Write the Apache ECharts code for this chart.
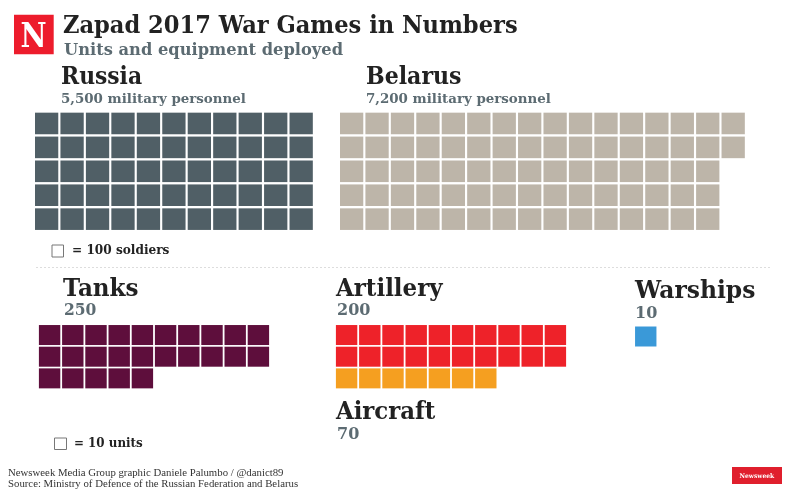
<!DOCTYPE html>
<html>
<head>
<meta charset="utf-8">
<style>
html, body { margin: 0; padding: 0; background: #fff; }
#chart { width: 790px; height: 494px; }
</style>
<script src="https://cdn.jsdelivr.net/npm/echarts@6/dist/echarts.min.js"></script>
</head>
<body>
<div id="chart"></div>
<script>
// squares per row, one square = 100 soldiers or 10 units
var russiaRows = [11, 11, 11, 11, 11];
var belarusRows = [16, 16, 15, 15, 15];
var tanksRows = [10, 10, 5];
var artilleryRows = [10, 10];
var aircraftRows = [0, 0, 7];
var warshipsRows = [1];

var russiaLabel = '5,500 military personnel';
var belarusLabel = '7,200 military personnel';
var tanksLabel = '250';
var artilleryLabel = '200';
var aircraftLabel = '70';
var warshipsLabel = '10';

var myChart = echarts.init(document.getElementById('chart'), null, { renderer: 'canvas' });

var SERIF = '"DejaVu Serif"';
var SOURCE = '"Liberation Serif"';
var DARK = '#222222';
var GREY = '#5c6b72';

// turn row counts into [col, row] points
function cells(rows) {
    var out = [];
    for (var r = 0; r < rows.length; r++) {
        for (var c = 0; c < rows[r]; c++) {
            out.push([c + 0.5, r + 0.5]);
        }
    }
    return out;
}

var blocks = [
    { name: 'Russia', rows: russiaRows, color: '#505f66', left: 33.9, top: 111.5, cols: 11, nrows: 5, width: 280, height: 119.6, size: [23.3, 21.6] },
    { name: 'Belarus', rows: belarusRows, color: '#bdb5a9', left: 338.9, top: 111.5, cols: 16, nrows: 5, width: 407, height: 119.6, size: [23.3, 21.6] },
    { name: 'Tanks', rows: tanksRows, color: '#5e0e3c', left: 38, top: 324.2, cols: 10, nrows: 3, width: 232, height: 65, size: [21.4, 20] },
    { name: 'Artillery', rows: artilleryRows, color: '#ee2229', left: 335, top: 324.2, cols: 10, nrows: 3, width: 232, height: 65, size: [21.4, 20] },
    { name: 'Aircraft', rows: aircraftRows, color: '#f59f20', left: 335, top: 324.2, cols: 10, nrows: 3, width: 232, height: 65, size: [21.4, 20] },
    { name: 'Warships', rows: warshipsRows, color: '#3a99d8', left: 635, top: 326.5, cols: 1, nrows: 1, width: 21.5, height: 20, size: [21.4, 20] }
];

var grids = [], xAxes = [], yAxes = [], series = [];
blocks.forEach(function (b, i) {
    grids.push({ left: b.left, top: b.top, width: b.width, height: b.height });
    xAxes.push({ type: 'value', gridIndex: i, min: 0, max: b.cols, show: false });
    yAxes.push({ type: 'value', gridIndex: i, min: 0, max: b.nrows, inverse: true, show: false });
    series.push({
        name: b.name,
        type: 'scatter',
        xAxisIndex: i,
        yAxisIndex: i,
        symbol: 'rect',
        symbolSize: b.size,
        silent: true,
        itemStyle: { color: b.color, opacity: 1 },
        data: cells(b.rows)
    });
});

// x = left edge, y = baseline, sx squeezes the wide fallback serif to the original width
function label(text, x, y, size, fill, sx, weight, family) {
    return {
        type: 'text',
        x: x,
        y: y - size * 0.27,
        scaleX: sx || 1,
        style: {
            text: text,
            x: 0,
            y: 0,
            fill: fill,
            verticalAlign: 'middle',
            font: (weight || 'bold') + ' ' + size + 'px ' + (family || SERIF)
        }
    };
}

var graphics = [
    { type: 'rect', shape: { x: 14, y: 14.7, width: 39.7, height: 39.6 }, style: { fill: '#ed1c2c' } },
    label('N', 20.5, 47.5, 34, '#ffffff', 0.84),
    label('Zapad 2017 War Games in Numbers', 63, 33, 24, DARK, 0.94),
    label('Units and equipment deployed', 64, 55, 17.5, GREY, 0.93),
    label('Russia', 61, 84, 24, DARK, 0.91),
    label(russiaLabel, 61, 103, 13.4, GREY),
    label('Belarus', 366, 84, 24, DARK, 0.92),
    label(belarusLabel, 366, 103, 13.4, GREY),
    { type: 'rect', shape: { x: 52, y: 245, width: 11.5, height: 12 }, style: { fill: '#fff', stroke: '#777', lineWidth: 1 } },
    label('= 100 soldiers', 72, 254, 12.5, DARK, 0.97),
    { type: 'line', shape: { x1: 36, y1: 267.5, x2: 770, y2: 267.5 }, style: { stroke: '#dddddd', lineWidth: 1, lineDash: [2, 2] } },
    label('Tanks', 63, 296, 24, DARK, 0.96),
    label(tanksLabel, 64, 315, 16, GREY, 0.97),
    label('Artillery', 336, 296, 24, DARK, 0.955),
    label(artilleryLabel, 337, 315, 16, GREY),
    label('Warships', 635, 298, 24, DARK, 0.975),
    label(warshipsLabel, 635, 318, 16, GREY),
    label('Aircraft', 336, 419, 24, DARK, 0.95),
    label(aircraftLabel, 337, 439, 16, GREY),
    { type: 'rect', shape: { x: 54.5, y: 438, width: 12, height: 11.5 }, style: { fill: '#fff', stroke: '#777', lineWidth: 1 } },
    label('= 10 units', 74, 447, 12.5, DARK, 0.95),
    label('Newsweek Media Group graphic Daniele Palumbo / @danict89', 8, 476, 11, '#333333', 0.98, 'normal', SOURCE),
    label('Source: Ministry of Defence of the Russian Federation and Belarus', 8, 487, 11, '#333333', 0.98, 'normal', SOURCE),
    { type: 'rect', shape: { x: 732, y: 467, width: 50, height: 17 }, style: { fill: '#e01f2d' } },
    label('Newsweek', 739.5, 478, 6.5, '#ffffff', 0.92)
];

myChart.setOption({
    animation: false,
    backgroundColor: '#ffffff',
    grid: grids,
    xAxis: xAxes,
    yAxis: yAxes,
    series: series,
    graphic: { elements: graphics }
});
</script>
</body>
</html>
